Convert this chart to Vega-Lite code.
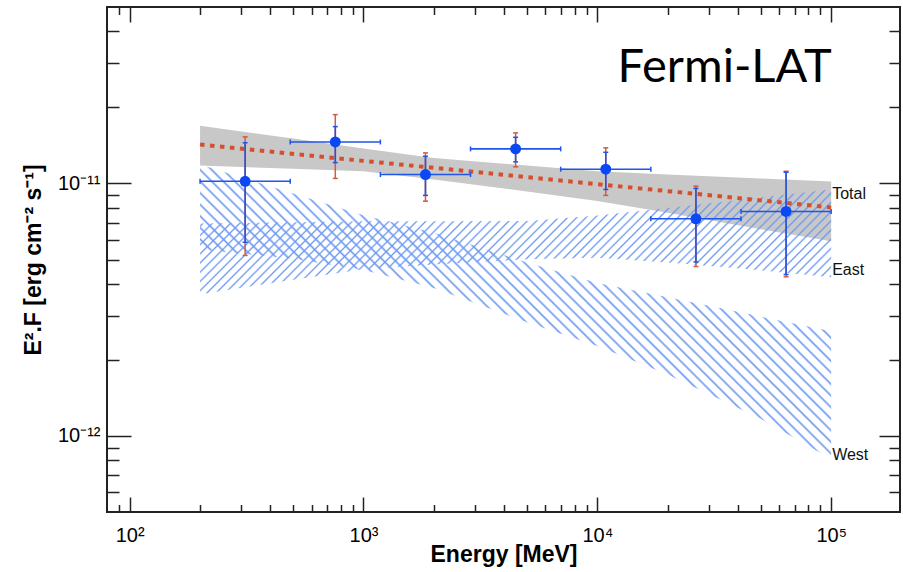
{
"$schema":"https://vega.github.io/schema/vega-lite/v6.json",
"width":793,"height":505,
"autosize":{"type":"none"},
"padding":{"left":107,"top":7,"right":3,"bottom":60},
"background":"white",
"config":{"view":{"stroke":"#222","strokeWidth":2},"axis":{"grid":false,"domain":false}},
"params":[{"name":"hstops","value":[
{"offset":0,"color":"#6d99f2"},{"offset":0.0025,"color":"#6d99f200"},
{"offset":0.01,"color":"#6d99f200"},{"offset":0.0125,"color":"#6d99f2"},{"offset":0.015,"color":"#6d99f200"},
{"offset":0.0225,"color":"#6d99f200"},{"offset":0.025,"color":"#6d99f2"},{"offset":0.0275,"color":"#6d99f200"},
{"offset":0.035,"color":"#6d99f200"},{"offset":0.0375,"color":"#6d99f2"},{"offset":0.04,"color":"#6d99f200"},
{"offset":0.0475,"color":"#6d99f200"},{"offset":0.05,"color":"#6d99f2"},{"offset":0.0525,"color":"#6d99f200"},
{"offset":0.06,"color":"#6d99f200"},{"offset":0.0625,"color":"#6d99f2"},{"offset":0.065,"color":"#6d99f200"},
{"offset":0.0725,"color":"#6d99f200"},{"offset":0.075,"color":"#6d99f2"},{"offset":0.0775,"color":"#6d99f200"},
{"offset":0.085,"color":"#6d99f200"},{"offset":0.0875,"color":"#6d99f2"},{"offset":0.09,"color":"#6d99f200"},
{"offset":0.0975,"color":"#6d99f200"},{"offset":0.1,"color":"#6d99f2"},{"offset":0.1025,"color":"#6d99f200"},
{"offset":0.11,"color":"#6d99f200"},{"offset":0.1125,"color":"#6d99f2"},{"offset":0.115,"color":"#6d99f200"},
{"offset":0.1225,"color":"#6d99f200"},{"offset":0.125,"color":"#6d99f2"},{"offset":0.1275,"color":"#6d99f200"},
{"offset":0.135,"color":"#6d99f200"},{"offset":0.1375,"color":"#6d99f2"},{"offset":0.14,"color":"#6d99f200"},
{"offset":0.1475,"color":"#6d99f200"},{"offset":0.15,"color":"#6d99f2"},{"offset":0.1525,"color":"#6d99f200"},
{"offset":0.16,"color":"#6d99f200"},{"offset":0.1625,"color":"#6d99f2"},{"offset":0.165,"color":"#6d99f200"},
{"offset":0.1725,"color":"#6d99f200"},{"offset":0.175,"color":"#6d99f2"},{"offset":0.1775,"color":"#6d99f200"},
{"offset":0.185,"color":"#6d99f200"},{"offset":0.1875,"color":"#6d99f2"},{"offset":0.19,"color":"#6d99f200"},
{"offset":0.1975,"color":"#6d99f200"},{"offset":0.2,"color":"#6d99f2"},{"offset":0.2025,"color":"#6d99f200"},
{"offset":0.21,"color":"#6d99f200"},{"offset":0.2125,"color":"#6d99f2"},{"offset":0.215,"color":"#6d99f200"},
{"offset":0.2225,"color":"#6d99f200"},{"offset":0.225,"color":"#6d99f2"},{"offset":0.2275,"color":"#6d99f200"},
{"offset":0.235,"color":"#6d99f200"},{"offset":0.2375,"color":"#6d99f2"},{"offset":0.24,"color":"#6d99f200"},
{"offset":0.2475,"color":"#6d99f200"},{"offset":0.25,"color":"#6d99f2"},{"offset":0.2525,"color":"#6d99f200"},
{"offset":0.26,"color":"#6d99f200"},{"offset":0.2625,"color":"#6d99f2"},{"offset":0.265,"color":"#6d99f200"},
{"offset":0.2725,"color":"#6d99f200"},{"offset":0.275,"color":"#6d99f2"},{"offset":0.2775,"color":"#6d99f200"},
{"offset":0.285,"color":"#6d99f200"},{"offset":0.2875,"color":"#6d99f2"},{"offset":0.29,"color":"#6d99f200"},
{"offset":0.2975,"color":"#6d99f200"},{"offset":0.3,"color":"#6d99f2"},{"offset":0.3025,"color":"#6d99f200"},
{"offset":0.31,"color":"#6d99f200"},{"offset":0.3125,"color":"#6d99f2"},{"offset":0.315,"color":"#6d99f200"},
{"offset":0.3225,"color":"#6d99f200"},{"offset":0.325,"color":"#6d99f2"},{"offset":0.3275,"color":"#6d99f200"},
{"offset":0.335,"color":"#6d99f200"},{"offset":0.3375,"color":"#6d99f2"},{"offset":0.34,"color":"#6d99f200"},
{"offset":0.3475,"color":"#6d99f200"},{"offset":0.35,"color":"#6d99f2"},{"offset":0.3525,"color":"#6d99f200"},
{"offset":0.36,"color":"#6d99f200"},{"offset":0.3625,"color":"#6d99f2"},{"offset":0.365,"color":"#6d99f200"},
{"offset":0.3725,"color":"#6d99f200"},{"offset":0.375,"color":"#6d99f2"},{"offset":0.3775,"color":"#6d99f200"},
{"offset":0.385,"color":"#6d99f200"},{"offset":0.3875,"color":"#6d99f2"},{"offset":0.39,"color":"#6d99f200"},
{"offset":0.3975,"color":"#6d99f200"},{"offset":0.4,"color":"#6d99f2"},{"offset":0.4025,"color":"#6d99f200"},
{"offset":0.41,"color":"#6d99f200"},{"offset":0.4125,"color":"#6d99f2"},{"offset":0.415,"color":"#6d99f200"},
{"offset":0.4225,"color":"#6d99f200"},{"offset":0.425,"color":"#6d99f2"},{"offset":0.4275,"color":"#6d99f200"},
{"offset":0.435,"color":"#6d99f200"},{"offset":0.4375,"color":"#6d99f2"},{"offset":0.44,"color":"#6d99f200"},
{"offset":0.4475,"color":"#6d99f200"},{"offset":0.45,"color":"#6d99f2"},{"offset":0.4525,"color":"#6d99f200"},
{"offset":0.46,"color":"#6d99f200"},{"offset":0.4625,"color":"#6d99f2"},{"offset":0.465,"color":"#6d99f200"},
{"offset":0.4725,"color":"#6d99f200"},{"offset":0.475,"color":"#6d99f2"},{"offset":0.4775,"color":"#6d99f200"},
{"offset":0.485,"color":"#6d99f200"},{"offset":0.4875,"color":"#6d99f2"},{"offset":0.49,"color":"#6d99f200"},
{"offset":0.4975,"color":"#6d99f200"},{"offset":0.5,"color":"#6d99f2"},{"offset":0.5025,"color":"#6d99f200"},
{"offset":0.51,"color":"#6d99f200"},{"offset":0.5125,"color":"#6d99f2"},{"offset":0.515,"color":"#6d99f200"},
{"offset":0.5225,"color":"#6d99f200"},{"offset":0.525,"color":"#6d99f2"},{"offset":0.5275,"color":"#6d99f200"},
{"offset":0.535,"color":"#6d99f200"},{"offset":0.5375,"color":"#6d99f2"},{"offset":0.54,"color":"#6d99f200"},
{"offset":0.5475,"color":"#6d99f200"},{"offset":0.55,"color":"#6d99f2"},{"offset":0.5525,"color":"#6d99f200"},
{"offset":0.56,"color":"#6d99f200"},{"offset":0.5625,"color":"#6d99f2"},{"offset":0.565,"color":"#6d99f200"},
{"offset":0.5725,"color":"#6d99f200"},{"offset":0.575,"color":"#6d99f2"},{"offset":0.5775,"color":"#6d99f200"},
{"offset":0.585,"color":"#6d99f200"},{"offset":0.5875,"color":"#6d99f2"},{"offset":0.59,"color":"#6d99f200"},
{"offset":0.5975,"color":"#6d99f200"},{"offset":0.6,"color":"#6d99f2"},{"offset":0.6025,"color":"#6d99f200"},
{"offset":0.61,"color":"#6d99f200"},{"offset":0.6125,"color":"#6d99f2"},{"offset":0.615,"color":"#6d99f200"},
{"offset":0.6225,"color":"#6d99f200"},{"offset":0.625,"color":"#6d99f2"},{"offset":0.6275,"color":"#6d99f200"},
{"offset":0.635,"color":"#6d99f200"},{"offset":0.6375,"color":"#6d99f2"},{"offset":0.64,"color":"#6d99f200"},
{"offset":0.6475,"color":"#6d99f200"},{"offset":0.65,"color":"#6d99f2"},{"offset":0.6525,"color":"#6d99f200"},
{"offset":0.66,"color":"#6d99f200"},{"offset":0.6625,"color":"#6d99f2"},{"offset":0.665,"color":"#6d99f200"},
{"offset":0.6725,"color":"#6d99f200"},{"offset":0.675,"color":"#6d99f2"},{"offset":0.6775,"color":"#6d99f200"},
{"offset":0.685,"color":"#6d99f200"},{"offset":0.6875,"color":"#6d99f2"},{"offset":0.69,"color":"#6d99f200"},
{"offset":0.6975,"color":"#6d99f200"},{"offset":0.7,"color":"#6d99f2"},{"offset":0.7025,"color":"#6d99f200"},
{"offset":0.71,"color":"#6d99f200"},{"offset":0.7125,"color":"#6d99f2"},{"offset":0.715,"color":"#6d99f200"},
{"offset":0.7225,"color":"#6d99f200"},{"offset":0.725,"color":"#6d99f2"},{"offset":0.7275,"color":"#6d99f200"},
{"offset":0.735,"color":"#6d99f200"},{"offset":0.7375,"color":"#6d99f2"},{"offset":0.74,"color":"#6d99f200"},
{"offset":0.7475,"color":"#6d99f200"},{"offset":0.75,"color":"#6d99f2"},{"offset":0.7525,"color":"#6d99f200"},
{"offset":0.76,"color":"#6d99f200"},{"offset":0.7625,"color":"#6d99f2"},{"offset":0.765,"color":"#6d99f200"},
{"offset":0.7725,"color":"#6d99f200"},{"offset":0.775,"color":"#6d99f2"},{"offset":0.7775,"color":"#6d99f200"},
{"offset":0.785,"color":"#6d99f200"},{"offset":0.7875,"color":"#6d99f2"},{"offset":0.79,"color":"#6d99f200"},
{"offset":0.7975,"color":"#6d99f200"},{"offset":0.8,"color":"#6d99f2"},{"offset":0.8025,"color":"#6d99f200"},
{"offset":0.81,"color":"#6d99f200"},{"offset":0.8125,"color":"#6d99f2"},{"offset":0.815,"color":"#6d99f200"},
{"offset":0.8225,"color":"#6d99f200"},{"offset":0.825,"color":"#6d99f2"},{"offset":0.8275,"color":"#6d99f200"},
{"offset":0.835,"color":"#6d99f200"},{"offset":0.8375,"color":"#6d99f2"},{"offset":0.84,"color":"#6d99f200"},
{"offset":0.8475,"color":"#6d99f200"},{"offset":0.85,"color":"#6d99f2"},{"offset":0.8525,"color":"#6d99f200"},
{"offset":0.86,"color":"#6d99f200"},{"offset":0.8625,"color":"#6d99f2"},{"offset":0.865,"color":"#6d99f200"},
{"offset":0.8725,"color":"#6d99f200"},{"offset":0.875,"color":"#6d99f2"},{"offset":0.8775,"color":"#6d99f200"},
{"offset":0.885,"color":"#6d99f200"},{"offset":0.8875,"color":"#6d99f2"},{"offset":0.89,"color":"#6d99f200"},
{"offset":0.8975,"color":"#6d99f200"},{"offset":0.9,"color":"#6d99f2"},{"offset":0.9025,"color":"#6d99f200"},
{"offset":0.91,"color":"#6d99f200"},{"offset":0.9125,"color":"#6d99f2"},{"offset":0.915,"color":"#6d99f200"},
{"offset":0.9225,"color":"#6d99f200"},{"offset":0.925,"color":"#6d99f2"},{"offset":0.9275,"color":"#6d99f200"},
{"offset":0.935,"color":"#6d99f200"},{"offset":0.9375,"color":"#6d99f2"},{"offset":0.94,"color":"#6d99f200"},
{"offset":0.9475,"color":"#6d99f200"},{"offset":0.95,"color":"#6d99f2"},{"offset":0.9525,"color":"#6d99f200"},
{"offset":0.96,"color":"#6d99f200"},{"offset":0.9625,"color":"#6d99f2"},{"offset":0.965,"color":"#6d99f200"},
{"offset":0.9725,"color":"#6d99f200"},{"offset":0.975,"color":"#6d99f2"},{"offset":0.9775,"color":"#6d99f200"},
{"offset":0.985,"color":"#6d99f200"},{"offset":0.9875,"color":"#6d99f2"},{"offset":0.99,"color":"#6d99f200"},
{"offset":0.9975,"color":"#6d99f200"},{"offset":1,"color":"#6d99f2"}
]}],
"datasets":{
"total":[
{"E":200,"hi":1.695e-11,"lo":1.178e-11},
{"E":500,"hi":1.506e-11,"lo":1.143e-11},
{"E":1000,"hi":1.375e-11,"lo":1.117e-11},
{"E":2000,"hi":1.261e-11,"lo":1.037e-11},
{"E":5000,"hi":1.177e-11,"lo":9.30e-12},
{"E":10000,"hi":1.117e-11,"lo":8.52e-12},
{"E":20000,"hi":1.085e-11,"lo":7.65e-12},
{"E":50000,"hi":1.047e-11,"lo":6.59e-12},
{"E":100000,"hi":1.018e-11,"lo":5.90e-12}],
"east":[
{"E":200,"hi":6.95e-12,"lo":3.64e-12},
{"E":500,"hi":7.02e-12,"lo":4.16e-12},
{"E":1000,"hi":7.08e-12,"lo":4.57e-12},
{"E":2000,"hi":7.08e-12,"lo":4.78e-12},
{"E":5000,"hi":7.11e-12,"lo":5.01e-12},
{"E":10000,"hi":7.47e-12,"lo":5.08e-12},
{"E":20000,"hi":8.00e-12,"lo":4.87e-12},
{"E":50000,"hi":8.80e-12,"lo":4.53e-12},
{"E":100000,"hi":9.47e-12,"lo":4.25e-12}],
"west":[
{"E":200,"hi":1.189e-11,"lo":5.48e-12},
{"E":500,"hi":9.13e-12,"lo":5.04e-12},
{"E":1000,"hi":7.49e-12,"lo":4.54e-12},
{"E":2000,"hi":6.38e-12,"lo":3.86e-12},
{"E":5000,"hi":4.87e-12,"lo":2.82e-12},
{"E":10000,"hi":4.04e-12,"lo":2.27e-12},
{"E":20000,"hi":3.54e-12,"lo":1.75e-12},
{"E":50000,"hi":2.97e-12,"lo":1.17e-12},
{"E":100000,"hi":2.60e-12,"lo":8.11e-13}],
"model":[{"E":200,"F":1.426e-11},{"E":100000,"F":8.04e-12}],
"pts":[
{"E":311.8,"Elo":200,"Ehi":486,"F":1.02e-11,"Flo":5.85e-12,"Fhi":1.45e-11,"Slo":5.19e-12,"Shi":1.53e-11},
{"E":757.6,"Elo":486,"Ehi":1181,"F":1.46e-11,"Flo":1.21e-11,"Fhi":1.68e-11,"Slo":1.047e-11,"Shi":1.874e-11},
{"E":1841,"Elo":1181,"Ehi":2869,"F":1.085e-11,"Flo":8.97e-12,"Fhi":1.282e-11,"Slo":8.51e-12,"Shi":1.322e-11},
{"E":4473,"Elo":2869,"Ehi":6971,"F":1.371e-11,"Flo":1.218e-11,"Fhi":1.524e-11,"Slo":1.164e-11,"Shi":1.586e-11},
{"E":10868,"Elo":6971,"Ehi":16938,"F":1.139e-11,"Flo":9.47e-12,"Fhi":1.329e-11,"Slo":8.97e-12,"Shi":1.384e-11},
{"E":26407,"Elo":16938,"Ehi":41157,"F":7.25e-12,"Flo":4.89e-12,"Fhi":9.56e-12,"Slo":4.69e-12,"Shi":9.76e-12},
{"E":64164,"Elo":41157,"Ehi":100000,"F":7.75e-12,"Flo":4.36e-12,"Fhi":1.108e-11,"Slo":4.27e-12,"Shi":1.118e-11}],
"bandlabels":[
{"E":100000,"F":9.085e-12,"t":"Total"},
{"E":100000,"F":4.564e-12,"t":"East"},
{"E":100000,"F":8.408e-13,"t":"West"}],
"tag":[{"E":12200,"F":2.523e-11,"t":"Fermi-LAT"}]
},
"resolve":{"axis":{"x":"independent","y":"independent"}},
"layer":[
{"data":{"name":"total"},
 "mark":{"type":"area","color":"#c8c8c8","opacity":1},
 "encoding":{
  "x":{"field":"E","type":"quantitative","scale":{"type":"log","domain":[80,197000],"nice":false},
   "axis":{"orient":"bottom","values":[100,1000,10000,100000],"ticks":false,"domain":false,"grid":false,
    "labelExpr":"datum.value < 500 ? '10²' : datum.value < 5000 ? '10³' : datum.value < 50000 ? '10⁴' : '10⁵'",
    "labelFont":"Liberation Sans","labelFontSize":20,"labelColor":"#000","labelPadding":13,"labelFlush":false,"labelOverlap":false,
    "title":"Energy [MeV]","titleFont":"Liberation Sans","titleFontSize":23,"titleFontWeight":"bold","titleColor":"#000","titleY":49,"titleBaseline":"alphabetic"}},
  "y":{"field":"hi","type":"quantitative","scale":{"type":"log","domain":[5e-13,5e-11],"nice":false},
   "axis":{"orient":"left","values":[1e-12,1e-11],"ticks":false,"domain":false,"grid":false,
    "labelExpr":"datum.value < 3e-12 ? '10⁻¹²' : '10⁻¹¹'",
    "labelFont":"Liberation Sans","labelFontSize":20,"labelColor":"#000","labelPadding":7,"labelFlush":false,"labelOverlap":false,
    "title":"E².F [erg cm⁻² s⁻¹]","titleFont":"Liberation Sans","titleFontSize":23,"titleFontWeight":"bold","titleColor":"#000",
    "titleX":-67,"titleY":252.5,"titleAngle":270,"titleAlign":"center","titleBaseline":"alphabetic"}},
  "y2":{"field":"lo"}}},
{"data":{"name":"east"},
 "mark":{"type":"area","opacity":1,"fill":{"expr":"{gradient:'linear',x1:0,y1:0,x2:1.1348,y2:0.1885,stops:hstops}"}},
 "encoding":{
  "x":{"field":"E","type":"quantitative","scale":{"type":"log","domain":[80,197000],"nice":false},
   "axis":{"orient":"bottom","values":[100,1000,10000,100000],"labels":false,"domain":false,"grid":false,"title":null,"ticks":true,"tickSize":-15,"tickWidth":1.5,"tickColor":"#222"}},
  "y":{"field":"hi","type":"quantitative","scale":{"type":"log","domain":[5e-13,5e-11],"nice":false},
   "axis":{"orient":"left","values":[1e-12,1e-11],"labels":false,"domain":false,"grid":false,"title":null,"ticks":true,"tickSize":-24,"tickWidth":1.5,"tickColor":"#222"}},
  "y2":{"field":"lo"}}},
{"data":{"name":"west"},
 "mark":{"type":"area","opacity":1,"fill":{"expr":"{gradient:'linear',x1:0,y1:1,x2:1.2044,y2:0.4381,stops:hstops}"}},
 "encoding":{
  "x":{"field":"E","type":"quantitative","scale":{"type":"log","domain":[80,197000],"nice":false},
   "axis":{"orient":"bottom","values":[90,200,300,400,500,600,700,800,900,2000,3000,4000,5000,6000,7000,8000,9000,20000,30000,40000,50000,60000,70000,80000,90000],"labels":false,"domain":false,"grid":false,"title":null,"ticks":true,"tickSize":-7.5,"tickWidth":1.5,"tickColor":"#222"}},
  "y":{"field":"hi","type":"quantitative","scale":{"type":"log","domain":[5e-13,5e-11],"nice":false},
   "axis":{"orient":"left","values":[6e-13,7e-13,8e-13,9e-13,2e-12,3e-12,4e-12,5e-12,6e-12,7e-12,8e-12,9e-12,2e-11,3e-11,4e-11],"labels":false,"domain":false,"grid":false,"title":null,"ticks":true,"tickSize":-12,"tickWidth":1.5,"tickColor":"#222"}},
  "y2":{"field":"lo"}}},
{"data":{"name":"model"},
 "mark":{"type":"line","color":"#d4502c","strokeWidth":4,"strokeDash":[4.5,5.5],"strokeCap":"butt"},
 "encoding":{
  "x":{"field":"E","type":"quantitative","scale":{"type":"log","domain":[80,197000],"nice":false},
   "axis":{"orient":"top","values":[100,1000,10000,100000],"labels":false,"domain":false,"grid":false,"title":null,"ticks":true,"tickSize":-15,"tickWidth":1.5,"tickColor":"#222"}},
  "y":{"field":"F","type":"quantitative","scale":{"type":"log","domain":[5e-13,5e-11],"nice":false},
   "axis":{"orient":"right","values":[1e-12,1e-11],"labels":false,"domain":false,"grid":false,"title":null,"ticks":true,"tickSize":-21,"tickWidth":1.5,"tickColor":"#222"}}}},
{"data":{"name":"pts"},
 "mark":{"type":"rule","color":"#d65a3c","strokeWidth":1.5},
 "encoding":{
  "x":{"field":"E","type":"quantitative","scale":{"type":"log","domain":[80,197000],"nice":false},
   "axis":{"orient":"top","values":[90,200,300,400,500,600,700,800,900,2000,3000,4000,5000,6000,7000,8000,9000,20000,30000,40000,50000,60000,70000,80000,90000],"labels":false,"domain":false,"grid":false,"title":null,"ticks":true,"tickSize":-7.5,"tickWidth":1.5,"tickColor":"#222"}},
  "y":{"field":"Slo","type":"quantitative","scale":{"type":"log","domain":[5e-13,5e-11],"nice":false},
   "axis":{"orient":"right","values":[6e-13,7e-13,8e-13,9e-13,2e-12,3e-12,4e-12,5e-12,6e-12,7e-12,8e-12,9e-12,2e-11,3e-11,4e-11],"labels":false,"domain":false,"grid":false,"title":null,"ticks":true,"tickSize":-11,"tickWidth":1.5,"tickColor":"#222"}},
  "y2":{"field":"Shi"}}},
{"data":{"name":"pts"},
 "transform":[{"fold":["Slo","Shi"]}],
 "mark":{"type":"tick","orient":"horizontal","size":5,"thickness":1.5,"color":"#d65a3c","opacity":1},
 "encoding":{
  "x":{"field":"E","type":"quantitative","scale":{"type":"log","domain":[80,197000],"nice":false},"axis":null},
  "y":{"field":"value","type":"quantitative","scale":{"type":"log","domain":[5e-13,5e-11],"nice":false},"axis":null}}},
{"data":{"name":"pts"},
 "mark":{"type":"rule","color":"#1f55e8","strokeWidth":1.6},
 "encoding":{
  "x":{"field":"Elo","type":"quantitative","scale":{"type":"log","domain":[80,197000],"nice":false},"axis":null},
  "x2":{"field":"Ehi"},
  "y":{"field":"F","type":"quantitative","scale":{"type":"log","domain":[5e-13,5e-11],"nice":false},"axis":null}}},
{"data":{"name":"pts"},
 "mark":{"type":"rule","color":"#1f55e8","strokeWidth":1.6},
 "encoding":{
  "x":{"field":"E","type":"quantitative","scale":{"type":"log","domain":[80,197000],"nice":false},"axis":null},
  "y":{"field":"Flo","type":"quantitative","scale":{"type":"log","domain":[5e-13,5e-11],"nice":false},"axis":null},
  "y2":{"field":"Fhi"}}},
{"data":{"name":"pts"},
 "transform":[{"fold":["Flo","Fhi"]}],
 "mark":{"type":"tick","orient":"horizontal","size":5,"thickness":1.5,"color":"#1f55e8","opacity":1},
 "encoding":{
  "x":{"field":"E","type":"quantitative","scale":{"type":"log","domain":[80,197000],"nice":false},"axis":null},
  "y":{"field":"value","type":"quantitative","scale":{"type":"log","domain":[5e-13,5e-11],"nice":false},"axis":null}}},
{"data":{"name":"pts"},
 "transform":[{"fold":["Elo","Ehi"]}],
 "mark":{"type":"tick","orient":"vertical","size":5,"thickness":1.5,"color":"#1f55e8","opacity":1},
 "encoding":{
  "x":{"field":"value","type":"quantitative","scale":{"type":"log","domain":[80,197000],"nice":false},"axis":null},
  "y":{"field":"F","type":"quantitative","scale":{"type":"log","domain":[5e-13,5e-11],"nice":false},"axis":null}}},
{"data":{"name":"pts"},
 "mark":{"type":"point","filled":true,"size":120,"color":"#0a48f5","opacity":1},
 "encoding":{
  "x":{"field":"E","type":"quantitative","scale":{"type":"log","domain":[80,197000],"nice":false},"axis":null},
  "y":{"field":"F","type":"quantitative","scale":{"type":"log","domain":[5e-13,5e-11],"nice":false},"axis":null}}},
{"data":{"name":"bandlabels"},
 "mark":{"type":"text","align":"left","baseline":"middle","dx":1,"font":"Liberation Sans","fontSize":16,"color":"#111"},
 "encoding":{
  "x":{"field":"E","type":"quantitative","scale":{"type":"log","domain":[80,197000],"nice":false},"axis":null},
  "y":{"field":"F","type":"quantitative","scale":{"type":"log","domain":[5e-13,5e-11],"nice":false},"axis":null},
  "text":{"field":"t"}}},
{"data":{"name":"tag"},
 "mark":{"type":"text","align":"left","baseline":"alphabetic","font":"Lato","fontSize":47,"color":"#000"},
 "encoding":{
  "x":{"field":"E","type":"quantitative","scale":{"type":"log","domain":[80,197000],"nice":false},"axis":null},
  "y":{"field":"F","type":"quantitative","scale":{"type":"log","domain":[5e-13,5e-11],"nice":false},"axis":null},
  "text":{"field":"t"}}}
]
}
